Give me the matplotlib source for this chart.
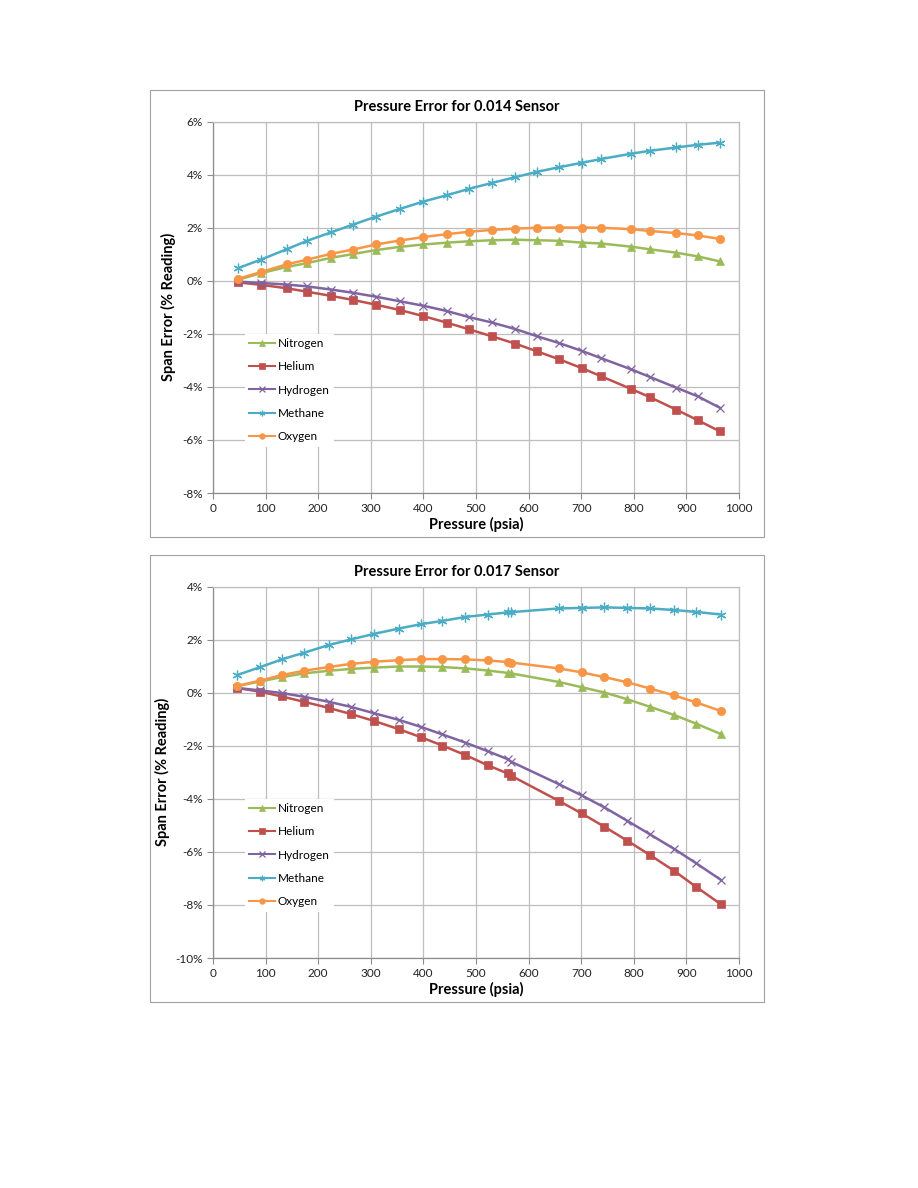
import numpy as np
import matplotlib.pyplot as plt
from matplotlib.patches import Rectangle
from matplotlib.ticker import FuncFormatter

plt.rcParams['font.family'] = ['Lato', 'DejaVu Sans']

# ---- data (pressure psia, span error %) ----
gases = ['Nitrogen', 'Helium', 'Hydrogen', 'Methane', 'Oxygen']

p_014 = [48, 91, 140, 179, 225, 266, 310, 355, 400, 445, 487, 530, 575, 616,
         657, 701, 737, 794, 830, 881, 922, 964]
nitrogen_014 = [0.04, 0.29, 0.52, 0.67, 0.87, 1.01, 1.16, 1.28, 1.37, 1.44, 1.49,
                1.53, 1.55, 1.53, 1.51, 1.44, 1.41, 1.29, 1.19, 1.06, 0.92, 0.73]
helium_014 = [-0.06, -0.15, -0.28, -0.41, -0.57, -0.72, -0.90, -1.10, -1.33, -1.58,
              -1.83, -2.09, -2.37, -2.66, -2.95, -3.29, -3.59, -4.07, -4.38, -4.86,
              -5.26, -5.68]
hydrogen_014 = [-0.03, -0.08, -0.14, -0.21, -0.33, -0.45, -0.60, -0.77, -0.94, -1.14,
                -1.37, -1.57, -1.82, -2.09, -2.34, -2.64, -2.91, -3.33, -3.62, -4.03,
                -4.36, -4.79]
methane_014 = [0.48, 0.80, 1.19, 1.51, 1.83, 2.12, 2.42, 2.71, 2.99, 3.23, 3.47,
               3.69, 3.91, 4.11, 4.28, 4.45, 4.59, 4.79, 4.90, 5.03, 5.13, 5.21]
oxygen_014 = [0.08, 0.33, 0.62, 0.80, 1.02, 1.18, 1.37, 1.52, 1.65, 1.76, 1.85,
              1.92, 1.97, 2.00, 2.01, 2.01, 2.00, 1.95, 1.88, 1.80, 1.71, 1.58]

p_017 = [46, 90, 131, 173, 220, 262, 306, 353, 396, 436, 480, 522, 560, 567,
         657, 701, 744, 787, 831, 877, 918, 966]
nitrogen_017 = [0.25, 0.43, 0.59, 0.73, 0.83, 0.90, 0.95, 0.99, 0.99, 0.97, 0.92,
                0.84, 0.75, 0.73, 0.41, 0.21, 0.01, -0.24, -0.53, -0.84, -1.16, -1.56]
helium_017 = [0.18, 0.04, -0.14, -0.34, -0.57, -0.80, -1.06, -1.37, -1.68, -1.99,
              -2.35, -2.73, -3.04, -3.13, -4.07, -4.55, -5.05, -5.57, -6.12, -6.72,
              -7.31, -7.98]
hydrogen_017 = [0.18, 0.09, -0.01, -0.15, -0.34, -0.53, -0.77, -1.02, -1.29, -1.57,
                -1.88, -2.20, -2.50, -2.60, -3.44, -3.87, -4.32, -4.82, -5.34, -5.89,
                -6.42, -7.06]
methane_017 = [0.67, 0.97, 1.26, 1.51, 1.80, 2.01, 2.22, 2.42, 2.59, 2.71, 2.86,
               2.95, 3.03, 3.04, 3.18, 3.20, 3.22, 3.20, 3.18, 3.12, 3.05, 2.95]
oxygen_017 = [0.26, 0.46, 0.67, 0.83, 0.97, 1.09, 1.17, 1.23, 1.27, 1.27, 1.26,
              1.22, 1.16, 1.14, 0.92, 0.77, 0.59, 0.40, 0.16, -0.10, -0.36, -0.69]

colors = ['#9BBB59', '#C0504D', '#8064A2', '#4BACC6', '#F79646']
markers = ['^', 's', 'x', (6, 2, 0), 'o']
msizes = [6, 6, 6, 7, 6]

W, H = 918, 1188
fig = plt.figure(figsize=(W / 100, H / 100), dpi=100)


def fx(px):
    return px / W


def fy(py):
    return 1 - py / H


def draw_chart(top, title, p, series, ylim):
    # outer chart frame
    fig.patches.append(Rectangle((fx(150), fy(top + 447)), fx(614), 447 / H,
                                 transform=fig.transFigure, fill=False,
                                 edgecolor='#A0A0A0', linewidth=0.8))
    ax = fig.add_axes([fx(213), fy(top + 403), fx(526), 371.3 / H])
    for name, vals, c, m, ms in zip(gases, series, colors, markers, msizes):
        ax.plot(p, vals, color=c, linewidth=1.8, marker=m, markersize=ms,
                markeredgewidth=0.9 if m in ('x', (6, 2, 0)) else 0.5,
                markeredgecolor=c, label=name)
    ax.set_xlim(0, 1000)
    ax.set_ylim(*ylim)
    ax.set_xticks(np.arange(0, 1001, 100))
    ax.set_yticks(np.arange(ylim[0], ylim[1] + 0.1, 2))
    ax.yaxis.set_major_formatter(FuncFormatter(lambda v, _: f'{v:.0f}%'))
    ax.grid(True, color='#BEBEBE', linewidth=0.9)
    ax.set_axisbelow(True)
    for s in ax.spines.values():
        s.set_color('#BEBEBE')
        s.set_linewidth(0.9)
    ax.spines['left'].set_color('#8C8C8C')
    ax.spines['bottom'].set_color('#8C8C8C')
    ax.tick_params(labelsize=8.5, colors='#8C8C8C', labelcolor='#222222',
                   length=4, width=0.8)
    ax.set_xlabel('Pressure (psia)', fontsize=10.5, fontweight='bold', labelpad=2)
    ax.set_ylabel('Span Error (% Reading)', fontsize=10.5, fontweight='bold', labelpad=4)
    fig.text(fx(457), fy(top + 17), title, ha='center', va='center',
             fontsize=10.5, fontweight='bold')
    leg = ax.legend(loc='upper left', bbox_to_anchor=(0.05, 0.445), fontsize=8.5,
                    frameon=True, fancybox=False, framealpha=1, edgecolor='none',
                    handlelength=2.2, handletextpad=0.2, labelspacing=1.05,
                    borderpad=0.35)
    for h in leg.legend_handles:
        h.set_markersize(4)
        h.set_linewidth(1.5)
    return ax


draw_chart(90, 'Pressure Error for 0.014 Sensor', p_014,
           [nitrogen_014, helium_014, hydrogen_014, methane_014, oxygen_014], (-8, 6))
draw_chart(555, 'Pressure Error for 0.017 Sensor', p_017,
           [nitrogen_017, helium_017, hydrogen_017, methane_017, oxygen_017], (-10, 4))

fig.savefig('out.png', dpi=100, facecolor='white')
